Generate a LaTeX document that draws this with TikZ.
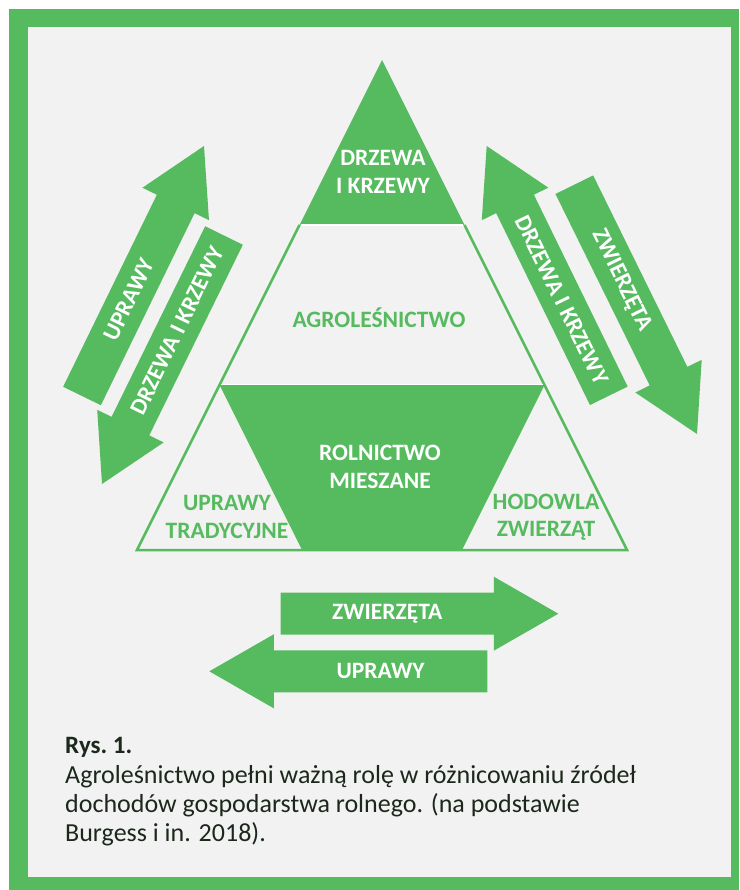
\documentclass[tikz,border=0pt]{standalone}
\usepackage{fontspec}
\setmainfont{Carlito}
\usetikzlibrary{calc}
\definecolor{gr}{RGB}{86,186,95}
\definecolor{bgc}{RGB}{242,242,242}
\definecolor{capc}{RGB}{28,40,28}
\tikzset{
  lbl/.style={font=\bfseries\fontsize{23.5}{27.5}\selectfont, align=center, inner sep=0pt},
  wlbl/.style={lbl, text=white},
  glbl/.style={lbl, text=gr},
  captxt/.style={font=\fontsize{26}{29}\selectfont, text=capc, inner sep=0pt, anchor=base west}
}
\newcommand\fatarrow[5]{%
  \coordinate (#3b) at #1;
  \coordinate (#3t) at #2;
  \coordinate (#3h) at ($(#3t)!64.5pt!(#3b)$);
  \fill[gr] ($(#3b)!21pt!90:(#3t)$) -- ($(#3h)!21pt!90:(#3t)$) -- ($(#3h)!37pt!90:(#3t)$)
    -- (#3t) -- ($(#3h)!37pt!-90:(#3t)$) -- ($(#3h)!21pt!-90:(#3t)$)
    -- ($(#3b)!21pt!-90:(#3t)$) -- cycle;
  \node[wlbl, rotate=#5] (#3lbl) at ($(#3b)!0.5!(#3h)$) {#4};
}
\begin{document}
\begin{tikzpicture}[x=1pt,y=-1pt]
\useasboundingbox (0,0) rectangle (739,890);
\fill[white] (0,0) rectangle (739,890);
\fill[gr] (9,9) rectangle (739,890);
\fill[bgc] (28,27) rectangle (731,877);

% big triangle
\coordinate (apex) at (382,60);
\coordinate (bl) at (137,550);
\coordinate (br) at (627,550);
\coordinate (tl) at (299.5,225);
\coordinate (tr) at (464.5,225);
\coordinate (ml) at (219.5,385);
\coordinate (mr) at (544.5,385);
\coordinate (ql) at (302,550);
\coordinate (qr) at (462,550);
\fill[bgc] (apex) -- (bl) -- (br) -- cycle;
\fill[gr] (apex) -- (tl) -- (tr) -- cycle;
\fill[gr] (ml) -- (mr) -- (qr) -- (ql) -- cycle;
\draw[gr, line width=2.5pt, line join=miter] (tl) -- (bl) -- (br) -- (tr);
\draw[white, line width=1.2pt] ($(tl)+(1.5,0)$) -- ($(tr)+(-1.5,0)$);
\draw[white, line width=1.2pt] ($(ml)+(1.5,-0.5)$) -- ($(mr)+(-1.5,-0.5)$);

\node[wlbl] (dk) at (383,172) {DRZEWA\\I KRZEWY};
\node[glbl] (agro) at (379,318) {AGROLEŚNICTWO};
\node[wlbl] (rm) at (380,467) {ROLNICTWO\\MIESZANE};
\node[glbl] (ut) at (227,517) {UPRAWY\\TRADYCYJNE};
\node[glbl] (hz) at (546,517) {HODOWLA\\ZWIERZĄT};

% arrows
\fatarrow{(82,396)}{(204,146)}{aa}{UPRAWY}{64}
\fatarrow{(224,235.5)}{(102,484)}{ab}{DRZEWA I KRZEWY}{64}
\fatarrow{(608.8,395.8)}{(486.7,146)}{ac}{DRZEWA I KRZEWY}{-64}
\fatarrow{(574.3,184.7)}{(697,434)}{ad}{ZWIERZĘTA}{-64}
\fatarrow{(280.7,613.7)}{(558.3,613.7)}{ae}{ZWIERZĘTA}{0}
\fatarrow{(487.3,671.3)}{(209.3,671.3)}{af}{UPRAWY}{0}

% caption
\node[captxt, font=\bfseries\fontsize{25}{29}\selectfont] (c1) at (65,753) {Rys.~1.};
\node[captxt] (c2) at (65,783) {Agroleśnictwo pełni ważną rolę w różnicowaniu źródeł};
\node[captxt] (c3) at (65,812) {dochodów gospodarstwa rolnego. (na podstawie};
\node[captxt] (c4) at (65,841) {Burgess i in. 2018).};
\end{tikzpicture}
\end{document}
